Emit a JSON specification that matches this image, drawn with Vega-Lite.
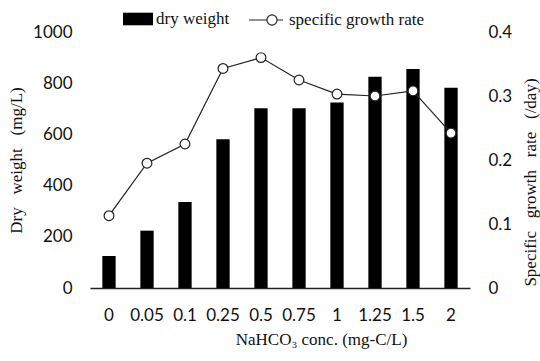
{
  "$schema": "https://vega.github.io/schema/vega-lite/v6.json",
  "width": 380,
  "height": 256,
  "autosize": {"type": "none"},
  "padding": {"left": 90, "top": 32, "right": 70, "bottom": 73},
  "background": "white",
  "config": {
    "view": {"stroke": null},
    "axis": {"grid": false, "labelFont": "Lato", "labelFontSize": 17, "labelColor": "#111", "titleFont": "Liberation Serif", "titleFontSize": 17, "titleFontWeight": "normal", "titleColor": "#111"},
    "axisRight": {"titleAngle": -90},
    "legend": {"labelFont": "Liberation Serif", "labelFontSize": 17, "labelColor": "#111", "padding": 0}
  },
  "data": {
    "values": [
      {"conc": "0", "dw": 125, "sgr": 0.113},
      {"conc": "0.05", "dw": 224, "sgr": 0.195},
      {"conc": "0.1", "dw": 336, "sgr": 0.225},
      {"conc": "0.25", "dw": 581, "sgr": 0.343},
      {"conc": "0.5", "dw": 702, "sgr": 0.36},
      {"conc": "0.75", "dw": 702, "sgr": 0.325},
      {"conc": "1", "dw": 725, "sgr": 0.303},
      {"conc": "1.25", "dw": 825, "sgr": 0.3},
      {"conc": "1.5", "dw": 855, "sgr": 0.308},
      {"conc": "2", "dw": 782, "sgr": 0.242}
    ]
  },
  "encoding": {
    "x": {
      "field": "conc", "type": "ordinal", "sort": null,
      "scale": {"paddingInner": 0.65, "paddingOuter": 0.325},
      "axis": {"labelAngle": 0, "ticks": false, "domainColor": "#222", "domainWidth": 1.5, "labelPadding": 19, "title": "NaHCO₃ conc. (mg-C/L)", "titlePadding": 8, "titleX": 231}
    }
  },
  "layer": [
    {
      "mark": {"type": "bar", "color": "black"},
      "encoding": {
        "y": {"field": "dw", "type": "quantitative", "scale": {"domain": [0, 1000]},
          "axis": {"values": [0, 200, 400, 600, 800, 1000], "format": "d", "domain": false, "ticks": false, "labelPadding": 18, "title": "Dry\u00a0\u00a0 weight\u00a0\u00a0 (mg/L)", "titlePadding": 7}},
        "color": {"datum": "dry weight", "type": "nominal", "scale": {"range": ["black"]},
          "legend": {"title": null, "orient": "none", "legendX": 33, "legendY": -28, "symbolType": "M-1,-0.42H1V0.42H-1Z", "symbolSize": 900, "labelOffset": 3, "symbolStrokeWidth": 0}}
      }
    },
    {
      "mark": {"type": "line", "strokeWidth": 1.2, "point": {"filled": true, "fill": "white", "size": 95, "strokeWidth": 1.2}},
      "encoding": {
        "y": {"field": "sgr", "type": "quantitative", "scale": {"domain": [0, 0.4]},
          "axis": {"orient": "right", "values": [0, 0.1, 0.2, 0.3, 0.4], "format": ".1~f", "domain": false, "ticks": false, "labelPadding": 18, "title": "Specific\u00a0\u00a0 growth\u00a0\u00a0 rate\u00a0\u00a0 (/day)", "titleAngle": -90, "titleX": 60, "titleY": 150, "titleAlign": "center", "titleBaseline": "middle"}},
        "stroke": {"datum": "specific growth rate", "type": "nominal", "scale": {"range": ["#222"]},
          "legend": {"title": null, "orient": "none", "legendX": 158, "legendY": -36, "symbolType": "M-1,0H-0.22M0.22,0H0.48M-0.22,0A0.22,0.22 0 1,0 0.22,0A0.22,0.22 0 1,0 -0.22,0", "symbolSize": 2116, "labelOffset": -7, "symbolFillColor": "white", "symbolStrokeColor": "#222", "symbolStrokeWidth": 1.2}}
      }
    }
  ],
  "resolve": {"scale": {"y": "independent", "color": "independent"}}
}
